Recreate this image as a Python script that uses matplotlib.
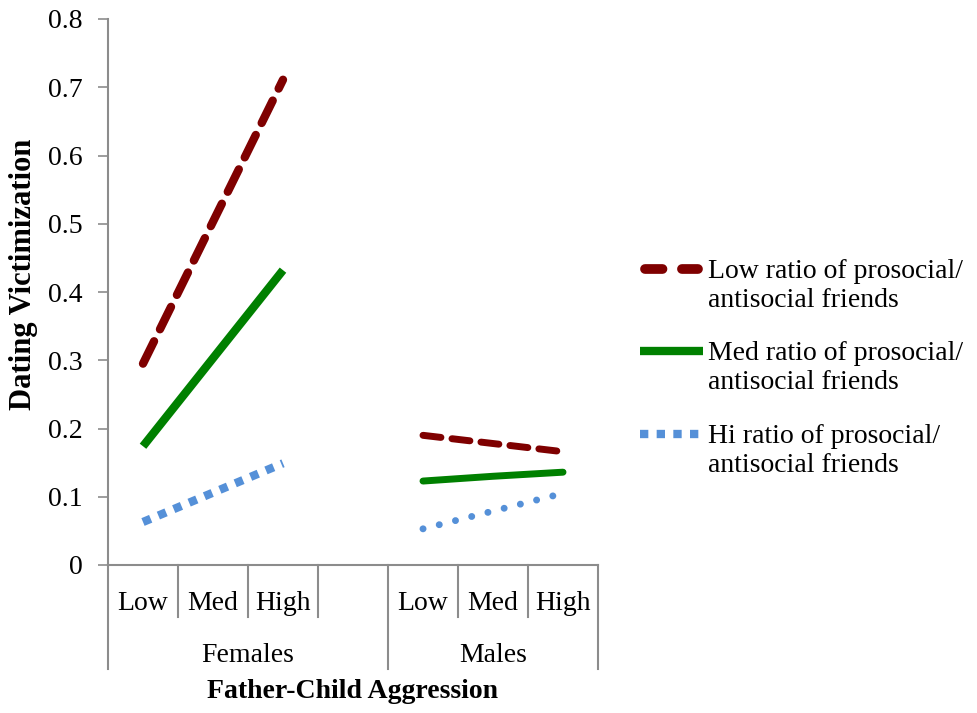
import matplotlib
matplotlib.use('Agg')
import matplotlib.pyplot as plt
from matplotlib.lines import Line2D

plt.rcParams['font.family'] = ['Liberation Serif', 'DejaVu Serif']

# categories on the x axis (blank slot between the two groups)
levels = ['Low', 'Med', 'High', '', 'Low', 'Med', 'High']
groups = ['Females', 'Males']
group_slots = [(0, 4), (4, 7)]

# dating victimization values
low_f = [0.295, 0.503, 0.711]
med_f = [0.174, 0.303, 0.432]
hi_f = [0.063, 0.106, 0.149]
low_m = [0.190, 0.178, 0.166]
med_m = [0.123, 0.130, 0.136]
hi_m = [0.053, 0.079, 0.105]

labels = ['Low ratio of prosocial/\nantisocial friends',
          'Med ratio of prosocial/\nantisocial friends',
          'Hi ratio of prosocial/\nantisocial friends']

red = '#7f0000'
green = '#008000'
blue = '#5590d8'
gray = '#8c8c8c'

fig = plt.figure(figsize=(9.78, 7.13), dpi=100)
ax = fig.add_axes([108/978, 1-565/713, 490/978, 546/713])

xf = [0, 1, 2]
xm = [4, 5, 6]

ax.plot(xf, low_f, color=red, lw=6, dashes=(3, 1.6), dash_capstyle='round')
ax.plot(xf, med_f, color=green, lw=6, solid_capstyle='butt')
ax.plot(xf, hi_f, color=blue, lw=6, dashes=(1, 1), dash_capstyle='butt')
ax.plot(xm, low_m, color=red, lw=5, dashes=(2.6, 1.6), dash_capstyle='round')
ax.plot(xm, med_m, color=green, lw=5, solid_capstyle='round')
ax.plot(xm, hi_m, color=blue, lw=5, dashes=(0.01, 2.4), dash_capstyle='round')

ax.set_xlim(-0.5, 6.5)
ax.set_ylim(0, 0.8)
ax.set_yticks([0, 0.1, 0.2, 0.3, 0.4, 0.5, 0.6, 0.7, 0.8])
ax.set_yticklabels(['0', '0.1', '0.2', '0.3', '0.4', '0.5', '0.6', '0.7', '0.8'], fontsize=20)
ax.tick_params(axis='y', direction='out', length=7, width=1.2, color=gray, pad=11)
ax.set_xticks([])
for s in ['top', 'right']:
    ax.spines[s].set_visible(False)
for s in ['left', 'bottom']:
    ax.spines[s].set_color(gray)
    ax.spines[s].set_linewidth(1.5)

# multi-level category axis
tr = ax.get_xaxis_transform()
for i, name in enumerate(levels):
    ax.text(i, -0.07, name, transform=tr, ha='center', va='center', fontsize=20)
bounds = set([-0.5, 3.5, 6.5])
for b in range(8):
    x = b - 0.5
    y2 = -0.19 if x in bounds else -0.095
    ax.plot([x, x], [0, y2], transform=tr, color=gray, lw=1.5, clip_on=False)
for name, (a, b) in zip(groups, group_slots):
    ax.text((a + b - 1) / 2, -0.165, name, transform=tr, ha='center', va='center', fontsize=20)

fig.text(353/978, 1-692/713, 'Father-Child Aggression', ha='center', va='center',
         fontsize=20, fontweight='bold')
fig.text(24/978, 1-274/713, 'Dating Victimization', ha='center', va='center',
         rotation=90, fontsize=22, fontweight='bold')

# legend, handle aligned with the first text line
styles = [dict(color=red, lw=7, dashes=(1.8, 2.0), dash_capstyle='round'),
          dict(color=green, lw=6, solid_capstyle='butt'),
          dict(color=blue, lw=6, dashes=(1, 1), dash_capstyle='butt')]
starts = [645, 640, 640]
ends = [698, 703, 703]
rows = [269, 351, 434]
for lab, st, yy, x0, x1 in zip(labels, styles, rows, starts, ends):
    fig.add_artist(Line2D([x0/978, x1/978], [1-yy/713, 1-yy/713],
                          transform=fig.transFigure, **st))
    fig.text(708/978, 1-(yy+17)/713, lab, ha='left', va='center',
             fontsize=20, linespacing=1.25)

fig.savefig('out.png', dpi=100)
